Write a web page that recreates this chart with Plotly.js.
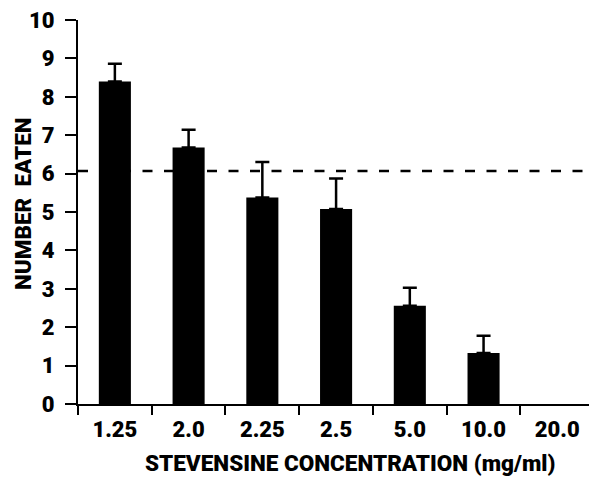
<!DOCTYPE html>
<html>
<head>
<meta charset="utf-8">
<script src="https://cdn.plot.ly/plotly-3.0.1.min.js"></script>
<style>html,body{margin:0;padding:0;background:#fff;}#chart{width:589px;height:479px;}</style>
</head>
<body>
<div id="chart"></div>
<script>
const categories = ["1.25", "2.0", "2.25", "2.5", "5.0", "10.0", "20.0"];
const numberEaten = [8.40, 6.68, 5.38, 5.08, 2.56, 1.33, 0];
const errorUpper = [0.46, 0.46, 0.92, 0.79, 0.47, 0.45, NaN];
const referenceLevel = 6.07;
const xTitle = "STEVENSINE CONCENTRATION (mg/ml)";
const yTitle = "NUMBER\u00a0 EATEN";
const yTicks = [0,1,2,3,4,5,6,7,8,9,10];

const idx = categories.map((c, i) => i);
const FONT = "Roboto, Liberation Sans, Arial, sans-serif";
const W = 900;

const trace = {
  type: "bar",
  x: idx,
  y: numberEaten,
  width: 0.435,
  marker: {color: "#000", line: {width: 0}},
  error_y: {
    type: "data", symmetric: false,
    array: errorUpper,
    arrayminus: errorUpper.map(v => isNaN(v) ? NaN : 0),
    color: "#000", thickness: 2.5, width: 7
  },
  hoverinfo: "skip"
};

const layout = {
  width: 589, height: 479,
  margin: {l: 78, r: 0, t: 20, b: 75},
  paper_bgcolor: "#fff", plot_bgcolor: "#fff",
  showlegend: false,
  xaxis: {
    range: [-0.5, 6.43],
    tickmode: "array",
    tickvals: idx,
    ticktext: categories,
    ticks: "outside", ticklen: 5, tickcolor: "rgba(0,0,0,0)",
    ticklabelstandoff: 0,
    minor: {tick0: -0.5, dtick: 1, ticks: "outside", ticklen: 9, tickwidth: 2, tickcolor: "#000", showgrid: false},
    showline: true, linecolor: "#000", linewidth: 2,
    showgrid: false, zeroline: false,
    tickfont: {family: FONT, size: 22, color: "#000", weight: W}
  },
  yaxis: {
    range: [0, 10],
    tickmode: "array",
    tickvals: yTicks,
    ticktext: yTicks.map(String),
    ticks: "outside", ticklen: 11, tickwidth: 2, tickcolor: "#000",
    ticklabelstandoff: 6,
    showline: true, linecolor: "#000", linewidth: 2,
    showgrid: false, zeroline: false,
    tickfont: {family: FONT, size: 22, color: "#000", weight: W}
  },
  shapes: [{
    type: "line", layer: "below",
    xref: "x", yref: "y",
    x0: -0.5, x1: 6.43, y0: referenceLevel, y1: referenceLevel,
    line: {color: "#000", width: 2.5, dash: "10px,11.5px"}
  }],
  annotations: [
    {text: xTitle, xref: "paper", yref: "paper", x: (349.5 - 78) / 511, y: (404 - 463) / 384,
     xanchor: "center", yanchor: "middle", showarrow: false,
     font: {family: FONT, size: 22.5, color: "#000", weight: W}},
    {text: yTitle, xref: "paper", yref: "paper", x: (23 - 78) / 511, y: (404 - 204) / 384,
     xanchor: "center", yanchor: "middle", showarrow: false, textangle: -90,
     font: {family: FONT, size: 22.5, color: "#000", weight: W}}
  ]
};

Plotly.newPlot("chart", [trace], layout, {displayModeBar: false, staticPlot: true});
</script>
</body>
</html>
